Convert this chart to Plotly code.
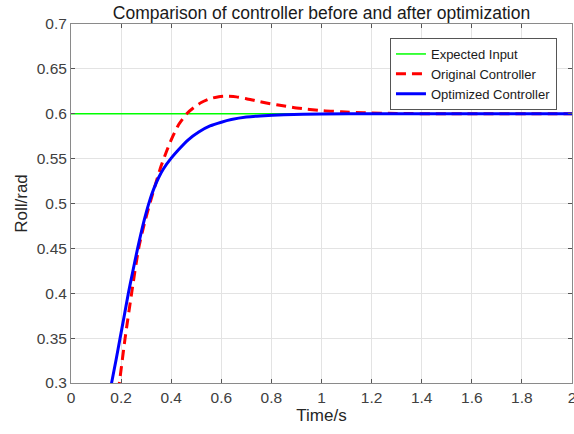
import plotly.graph_objects as go

# ---- data ----
t_expected = [0.0, 2.0]
y_expected = [0.6, 0.6]

t_original = [0.17, 0.193, 0.216, 0.242, 0.27, 0.295, 0.319, 0.34, 0.36, 0.38, 0.40, 0.43,
              0.462, 0.488, 0.52, 0.555, 0.59, 0.62, 0.66, 0.70, 0.741, 0.78, 0.821, 0.90,
              1.007, 1.08, 1.167, 1.30, 1.50, 2.0]
y_original = [0.255, 0.30, 0.35, 0.40, 0.45, 0.48, 0.504, 0.524, 0.542, 0.557, 0.571, 0.588,
              0.600, 0.6064, 0.6125, 0.6168, 0.619, 0.6195, 0.6188, 0.6168, 0.6142, 0.6120,
              0.6100, 0.6065, 0.6034, 0.6022, 0.6012, 0.6003, 0.600, 0.600]

t_optimized = [0.13, 0.162, 0.18, 0.196, 0.21, 0.229, 0.245, 0.266, 0.29, 0.315, 0.33, 0.35,
               0.37, 0.40, 0.43, 0.468, 0.51, 0.555, 0.60, 0.64, 0.70, 0.755, 0.85, 1.0,
               1.2, 2.0]
y_optimized = [0.25, 0.30, 0.326, 0.35, 0.371, 0.40, 0.422, 0.45, 0.479, 0.504, 0.516, 0.529,
               0.539, 0.5505, 0.5602, 0.571, 0.5797, 0.5864, 0.5906, 0.5935, 0.5963, 0.5976,
               0.5989, 0.5998, 0.600, 0.600]

x_ticks = [0, 0.2, 0.4, 0.6, 0.8, 1, 1.2, 1.4, 1.6, 1.8, 2]
x_tick_labels = ["0", "0.2", "0.4", "0.6", "0.8", "1", "1.2", "1.4", "1.6", "1.8", "2"]
y_ticks = [0.3, 0.35, 0.4, 0.45, 0.5, 0.55, 0.6, 0.65, 0.7]
y_tick_labels = ["0.3", "0.35", "0.4", "0.45", "0.5", "0.55", "0.6", "0.65", "0.7"]

font_family = "Liberation Sans, Arial, sans-serif"

fig = go.Figure()
fig.add_trace(go.Scatter(x=t_expected, y=y_expected, mode="lines", name="Expected Input",
                         line=dict(color="#00ff00", width=1.5)))
fig.add_trace(go.Scatter(x=t_original, y=y_original, mode="lines", name="Original Controller",
                         line=dict(color="#ff0000", width=3, dash="10px,6px", shape="spline",
                                   smoothing=0.6)))
fig.add_trace(go.Scatter(x=t_optimized, y=y_optimized, mode="lines", name="Optimized Controller",
                         line=dict(color="#0000ff", width=3, shape="spline", smoothing=0.6)))

axis_common = dict(
    showgrid=True, gridcolor="#e3e3e3", gridwidth=1,
    showline=True, linecolor="#8a8a8a", linewidth=1, mirror="ticks",
    ticks="inside", ticklen=4, tickcolor="#555555",
    tickfont=dict(family=font_family, size=15.5, color="#404040"),
    zeroline=False, automargin=False, ticklabeloverflow="allow",
)

fig.update_layout(
    width=574, height=434,
    margin=dict(l=71, r=2, t=24, b=51),
    paper_bgcolor="white", plot_bgcolor="white",
    title=dict(text="Comparison of controller before and after optimization",
               x=321.5 / 574, xanchor="center", y=1 - 13 / 434, yanchor="middle",
               font=dict(family=font_family, size=17.5, color="#1a1a1a"), automargin=False),
    xaxis=dict(range=[0, 2], tickvals=x_ticks, ticktext=x_tick_labels,
               title=dict(text="Time/s", font=dict(family=font_family, size=17, color="#262626"),
                          standoff=4),
               **axis_common),
    yaxis=dict(range=[0.3, 0.7], tickvals=y_ticks, ticktext=y_tick_labels,
               title=dict(text="Roll/rad", font=dict(family=font_family, size=17, color="#262626"),
                          standoff=4),
               **axis_common),
    legend=dict(x=0.970, y=0.961, xanchor="right", yanchor="top",
                bgcolor="white", bordercolor="#555555", borderwidth=1,
                font=dict(family=font_family, size=13, color="#1a1a1a"),
                tracegroupgap=0, itemwidth=30),
    showlegend=True,
)

fig.write_html("out.html", config={"displayModeBar": False},
               post_script="document.body.style.margin='0';")
